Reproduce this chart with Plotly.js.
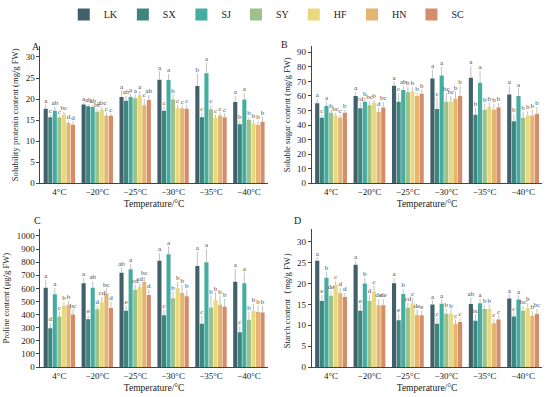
<!DOCTYPE html>
<html>
<head>
<meta charset="utf-8">
<script src="https://cdn.plot.ly/plotly-3.0.1.min.js"></script>
<style>html,body{margin:0;padding:0;background:#fff;}#chart{width:550px;height:397px;}</style>
</head>
<body>
<div id="chart"></div>
<script>
// ---------- DATA ----------
const temperatures = ['4°C', '\u221220°C', '\u221225°C', '\u221230°C', '\u221235°C', '\u221240°C'];
const seriesNames = ['LK', 'SX', 'SJ', 'SY', 'HF', 'HN', 'SC'];
const seriesColors = ['#41606a', '#3e857e', '#45ada0', '#9ec18b', '#e8d97f', '#e5b46f', '#d48c6a'];

// Panel A: soluble protein (mg/g FW); rows = series (LK..SC), cols = temperatures
const proteinValues = [
  [17.7, 18.7, 20.5, 24.6, 23.1, 19.3],
  [15.7, 18.3, 19.6, 17.2, 15.7, 14.0],
  [17.2, 18.1, 20.5, 24.5, 26.1, 19.9],
  [15.6, 17.0, 20.2, 19.9, 17.6, 15.0],
  [16.3, 17.5, 20.9, 17.8, 15.5, 14.2],
  [14.3, 16.0, 18.5, 17.8, 16.1, 13.9],
  [13.9, 16.0, 19.8, 17.7, 15.7, 14.6]
];
const proteinErrors = [
  [1.0, 0.5, 1.5, 2.0, 3.0, 1.5],
  [0.6, 0.6, 1.2, 1.0, 1.0, 0.8],
  [0.9, 0.5, 0.8, 1.5, 2.5, 1.5],
  [0.5, 0.7, 0.9, 1.2, 1.0, 0.7],
  [0.7, 0.6, 1.0, 0.8, 0.8, 0.8],
  [0.6, 0.8, 1.5, 0.7, 0.7, 0.9],
  [0.8, 0.6, 1.2, 0.9, 0.9, 1.2]
];
const proteinLetters = [
  ['a', 'a', 'a', 'a', 'b', 'a'],
  ['c', 'ab', 'ab', 'c', 'c', 'b'],
  ['ab', 'ab', 'a', 'a', 'a', 'a'],
  ['c', 'bc', 'a', 'b', 'c', 'b'],
  ['bc', 'abc', 'a', 'c', 'c', 'b'],
  ['d', 'c', 'c', 'c', 'c', 'b'],
  ['d', 'c', 'ab', 'c', 'c', 'b']
];

// Panel B: soluble sugar (mg/g FW)
const sugarValues = [
  [55.0, 60.0, 67.0, 72.0, 72.5, 61.0],
  [45.0, 51.5, 56.0, 51.0, 47.0, 42.5],
  [53.0, 56.0, 64.0, 74.0, 69.0, 60.0],
  [48.5, 53.5, 62.5, 56.0, 50.5, 45.0],
  [46.5, 55.5, 63.0, 56.0, 52.5, 46.5],
  [45.0, 49.0, 60.0, 58.0, 50.5, 46.5],
  [48.5, 52.0, 61.5, 60.0, 52.0, 47.5]
];
const sugarErrors = [
  [3, 3, 3, 6, 8, 6],
  [2, 4, 6, 8, 5, 5],
  [3, 3, 3, 6, 8, 5],
  [2, 3, 4, 6, 4, 4],
  [2, 2, 3, 4, 3, 3],
  [2, 3, 2, 5, 4, 4],
  [2, 4, 3, 7, 3, 5]
];
const sugarLetters = [
  ['a', 'a', 'a', 'a', 'a', 'a'],
  ['c', 'cd', 'c', 'c', 'b', 'b'],
  ['a', 'b', 'ab', 'a', 'a', 'a'],
  ['b', 'bc', 'b', 'bc', 'b', 'b'],
  ['bc', 'b', 'b', 'bc', 'b', 'b'],
  ['c', 'd', 'b', 'b', 'b', 'b'],
  ['b', 'bc', 'b', 'b', 'b', 'b']
];

// Panel C: proline (µg/g FW)
const prolineValues = [
  [605, 640, 720, 810, 770, 650],
  [295, 365, 430, 395, 330, 265],
  [555, 605, 745, 860, 800, 640],
  [385, 440, 590, 525, 455, 360],
  [465, 495, 610, 600, 510, 430],
  [475, 560, 650, 565, 475, 420],
  [400, 450, 550, 540, 460, 415]
];
const prolineErrors = [
  [60, 40, 40, 60, 110, 100],
  [40, 30, 40, 40, 60, 50],
  [50, 50, 40, 60, 100, 80],
  [40, 30, 40, 50, 90, 60],
  [30, 40, 30, 50, 60, 50],
  [30, 40, 40, 60, 70, 50],
  [40, 50, 40, 50, 60, 50]
];
const prolineLetters = [
  ['a', 'a', 'ab', 'a', 'a', 'a'],
  ['d', 'e', 'e', 'c', 'c', 'c'],
  ['a', 'ab', 'a', 'a', 'a', 'a'],
  ['c', 'd', 'cd', 'b', 'b', 'b'],
  ['b', 'cd', 'cd', 'b', 'b', 'b'],
  ['b', 'bc', 'bc', 'b', 'b', 'b'],
  ['bc', 'd', 'd', 'b', 'b', 'b']
];

// Panel D: starch (mg/g FW)
const starchValues = [
  [25.5, 24.5, 20.1, 15.0, 15.1, 16.4],
  [15.8, 13.5, 11.2, 10.4, 11.1, 12.1],
  [21.4, 20.0, 17.5, 15.2, 15.3, 16.2],
  [17.1, 15.8, 14.2, 12.8, 13.9, 13.5],
  [19.7, 18.1, 15.3, 12.8, 14.0, 14.1],
  [17.7, 14.8, 12.5, 10.4, 10.5, 12.3],
  [16.8, 14.8, 12.4, 10.8, 11.4, 12.7]
];
const starchErrors = [
  [0.8, 1.0, 1.2, 1.0, 1.5, 1.0],
  [1.5, 1.5, 1.5, 1.5, 1.5, 1.0],
  [1.5, 1.5, 1.2, 1.0, 1.0, 1.0],
  [1.2, 1.5, 1.2, 1.2, 1.0, 1.2],
  [1.0, 1.5, 1.2, 1.0, 1.0, 1.2],
  [1.2, 1.5, 1.2, 1.0, 1.0, 1.2],
  [1.0, 1.5, 1.0, 1.0, 1.0, 1.2]
];
const starchLetters = [
  ['a', 'a', 'a', 'a', 'ab', 'a'],
  ['e', 'e', 'e', 'c', 'bc', 'c'],
  ['b', 'b', 'b', 'a', 'a', 'a'],
  ['de', 'd', 'cd', 'b', 'b', 'bc'],
  ['c', 'c', 'c', 'b', 'b', 'b'],
  ['d', 'de', 'de', 'c', 'c', 'b'],
  ['d', 'de', 'e', 'c', 'c', 'bc']
];

// ---------- BUILD ----------
const FONT = 'Liberation Serif, Times New Roman, serif';
const LETTER_COLOR = '#4a4a4a';
const panels = [
  {vals: proteinValues, errs: proteinErrors, lets: proteinLetters, xa: 'x', ya: 'y'},
  {vals: sugarValues, errs: sugarErrors, lets: sugarLetters, xa: 'x2', ya: 'y2'},
  {vals: prolineValues, errs: prolineErrors, lets: prolineLetters, xa: 'x3', ya: 'y3'},
  {vals: starchValues, errs: starchErrors, lets: starchLetters, xa: 'x4', ya: 'y4'}
];

const traces = [];
panels.forEach((p, pi) => {
  seriesNames.forEach((name, si) => {
    traces.push({
      type: 'bar', name: name, x: temperatures, y: p.vals[si],
      xaxis: p.xa, yaxis: p.ya,
      marker: {color: seriesColors[si], line: {width: 0}},
      offsetgroup: name, legendgroup: name, showlegend: pi === 0,
      error_y: {type: 'data', array: p.errs[si], arrayminus: p.errs[si].map(() => 0),
                symmetric: false, color: '#a8a8a8', thickness: 0.7, width: 0},
      hoverinfo: 'x+y+name'
    });
  });
  seriesNames.forEach((name, si) => {
    traces.push({
      type: 'scatter', mode: 'text', name: name, x: temperatures,
      y: p.vals[si].map((v, i) => v + p.errs[si][i]),
      text: p.lets[si], textposition: 'top center',
      textfont: {family: FONT, size: 7, color: p.lets[si].map(() => LETTER_COLOR)},
      marker: {color: LETTER_COLOR, size: 1, opacity: 0},
      xaxis: p.xa, yaxis: p.ya, offsetgroup: name, legendgroup: name,
      showlegend: false, cliponaxis: false, hoverinfo: 'skip'
    });
  });
});

const xBase = {
  showline: true, linecolor: '#444', linewidth: 1, ticks: '', showgrid: false, zeroline: false,
  tickfont: {family: FONT, size: 9, color: '#222'},
  title: {text: 'Temperature/°C', font: {family: FONT, size: 9.5, color: '#222'}, standoff: 4}
};
function yAxis(domain, range, dtick, title) {
  return {
    domain: domain, range: range, dtick: dtick, showline: true, linecolor: '#444', linewidth: 1,
    ticks: 'outside', ticklen: 3, tickcolor: '#444', showgrid: false, zeroline: false,
    tickfont: {family: FONT, size: 9, color: '#222'},
    title: {text: title, font: {family: FONT, size: 8.6, color: '#222'}, standoff: 5}
  };
}
const topDom = [0.544, 0.892];
const botDom = [0.0763, 0.4265];
const leftDom = [0.0735, 0.487];
const rightDom = [0.567, 0.986];

const layout = {
  width: 550, height: 397,
  margin: {l: 0, r: 0, t: 0, b: 0},
  paper_bgcolor: '#fff', plot_bgcolor: '#fff',
  barmode: 'group', bargap: 0.16, bargroupgap: 0.1,
  scattermode: 'group', scattergap: 0.16,
  font: {family: FONT, color: '#222'},
  showlegend: true,
  legend: {orientation: 'h', x: 0.485, xanchor: 'center', y: 1.01, yanchor: 'top',
           font: {family: FONT, size: 10, color: '#222'}, itemwidth: 30, tracegroupgap: 0},
  xaxis: Object.assign({}, xBase, {domain: leftDom, anchor: 'y'}),
  yaxis: yAxis(topDom, [0, 32.5], 5, 'Solubility protenin content (mg/g FW)'),
  xaxis2: Object.assign({}, xBase, {domain: rightDom, anchor: 'y2'}),
  yaxis2: Object.assign(yAxis(topDom, [0, 94], 10, 'Soluble sugar content (mg/g FW)'), {anchor: 'x2'}),
  xaxis3: Object.assign({}, xBase, {domain: leftDom, anchor: 'y3'}),
  yaxis3: Object.assign(yAxis(botDom, [0, 1050], 100, 'Proline content (\u03bcg/g FW)'), {anchor: 'x3'}),
  xaxis4: Object.assign({}, xBase, {domain: rightDom, anchor: 'y4'}),
  yaxis4: Object.assign(yAxis(botDom, [0, 33], 5, 'Starch content\uff08mg/g FW\uff09'), {anchor: 'x4'}),
  annotations: [
    {text: 'A', xref: 'paper', yref: 'paper', x: 0.055, y: 0.912, showarrow: false, font: {family: FONT, size: 10}},
    {text: 'B', xref: 'paper', yref: 'paper', x: 0.518, y: 0.917, showarrow: false, font: {family: FONT, size: 10}},
    {text: 'C', xref: 'paper', yref: 'paper', x: 0.058, y: 0.448, showarrow: false, font: {family: FONT, size: 10}},
    {text: 'D', xref: 'paper', yref: 'paper', x: 0.54, y: 0.45, showarrow: false, font: {family: FONT, size: 10}}
  ]
};

Plotly.newPlot('chart', traces, layout, {displayModeBar: false, staticPlot: true});
</script>
</body>
</html>
